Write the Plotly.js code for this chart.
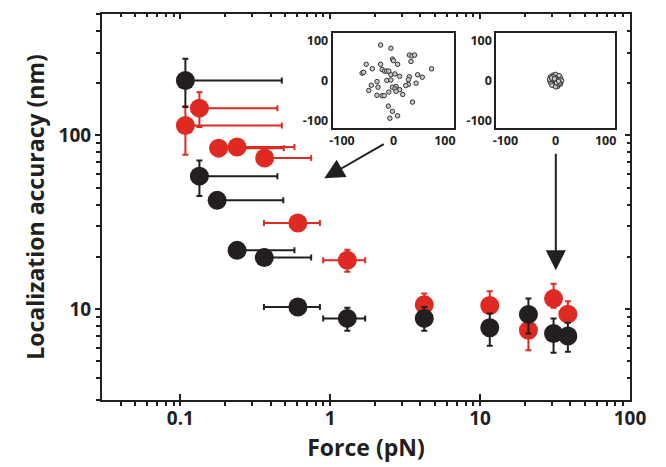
<!DOCTYPE html>
<html>
<head>
<meta charset="utf-8">
<script src="https://cdn.plot.ly/plotly-3.0.1.min.js"></script>
<style>html,body{margin:0;padding:0;background:#fff;}#chart{width:666px;height:467px;}</style>
</head>
<body>
<div id="chart"></div>
<script>
// Black series (force in pN, localization accuracy in nm)
var blackForce = [0.108, 0.134, 0.176, 0.239, 0.363, 0.608, 1.30, 4.24, 11.6, 21.0, 30.9, 38.5];
var blackAcc   = [207, 58.3, 42.3, 21.8, 19.8, 10.3, 8.85, 8.85, 7.82, 9.33, 7.25, 7.0];
var blackAccUp = [276, 71.8, 45.5, 23.5, 22.0, 11.3, 10.2, 10.3, 9.45, 11.5, 8.85, 8.34];
var blackAccLo = [146, 44.8, 39.5, 20.3, 18.0, 9.4, 7.5, 7.5, 6.15, 7.25, 5.61, 5.69];
var blackFLo   = [0.105, 0.134, 0.176, 0.239, 0.363, 0.361, 0.897, 4.24, 11.6, 21.0, 30.9, 38.5];
var blackFHi   = [0.475, 0.444, 0.486, 0.577, 0.746, 0.853, 1.71, 4.24, 11.6, 21.0, 30.9, 38.5];

// Red series
var redForce = [0.134, 0.108, 0.180, 0.239, 0.365, 0.608, 1.30, 4.24, 11.6, 21.0, 30.9, 38.5];
var redAcc   = [143.6, 114, 84.5, 85.7, 74.1, 31.3, 19.1, 10.6, 10.5, 7.57, 11.5, 9.36];
var redAccUp = [177, 147, 90, 91, 79, 34, 22.0, 12.3, 12.7, 9.0, 14.0, 11.1];
var redAccLo = [112, 77.4, 79, 80, 69, 29, 16.4, 9.6, 9.6, 5.81, 10.2, 8.5];
var redFLo   = [0.134, 0.108, 0.180, 0.239, 0.365, 0.361, 0.897, 4.24, 11.6, 21.0, 30.9, 38.5];
var redFHi   = [0.444, 0.475, 0.49, 0.577, 0.746, 0.853, 1.71, 4.24, 11.6, 21.0, 30.9, 38.5];

// Inset 1 (low force): positions (nm)
var in1X = [-25,-5,31,36,41,-2,0,34,8,-53,-25,-41,-22,-17,-13,-9,74,-61,-58,-5,3,12,47,56,31,29,-13,-5,-32,44,29,24,-43,-30,-2,5,3,-48,12,5,-9,18,-32,-22,-18,37,-10,-2,8,-7];
var in1Y = [88,80,63,61,63,53,49,47,40,40,40,29,27,23,23,23,29,18,20,14,16,10,14,8,9,2,0,1,-3,-7,-10,-13,-12,-17,-17,-15,-21,-25,-23,-27,-29,-35,-37,-38,-38,-54,-64,-77,-88,-94];

// Inset 2 (high force): positions (nm)
var in2X = [0,6,-6,11,-11,3,-3,9,-9,5,-5,0,4,-4,10,-10,7,-7,1,-1,12,-12,5,-5,0,8,-8,2,-2,6];
var in2Y = [0,5,-5,2,-3,11,-11,8,-8,-13,13,15,-15,3,-9,9,12,-12,-4,7,-1,3,-9,9,-16,-6,6,-6,4,-2];

var tickX = [0.1, 1, 10, 100];
var tickXText = ['0.1', '1', '10', '100'];
var tickY = [10, 100];
var tickYText = ['10', '100'];
var insetTicks = [-100, 0, 100];
var insetTickText = ['-100', '0', '100'];

var BLACK = '#231f20';
var RED = '#de2a22';

function minus(v, lo) { return v.map(function (d, i) { return d - lo[i]; }); }
function plus(v, hi) { return v.map(function (d, i) { return hi[i] - d; }); }

var errStyleY = function (col, v, up, lo) {
  return { type: 'data', symmetric: false, array: plus(v, up), arrayminus: minus(v, lo), color: col, thickness: 2, width: 3 };
};
var errStyleX = function (col, v, lo, hi) {
  return { type: 'data', symmetric: false, array: plus(v, hi), arrayminus: minus(v, lo), color: col, thickness: 2, width: 3 };
};

var traces = [
  {
    x: redForce, y: redAcc, type: 'scatter', mode: 'markers',
    marker: { color: RED, size: 19, line: { width: 0 } },
    error_y: errStyleY(RED, redAcc, redAccUp, redAccLo),
    error_x: errStyleX(RED, redForce, redFLo, redFHi),
    xaxis: 'x', yaxis: 'y', hoverinfo: 'skip'
  },
  {
    x: blackForce, y: blackAcc, type: 'scatter', mode: 'markers',
    marker: { color: BLACK, size: 19, line: { width: 0 } },
    error_y: errStyleY(BLACK, blackAcc, blackAccUp, blackAccLo),
    error_x: errStyleX(BLACK, blackForce, blackFLo, blackFHi),
    xaxis: 'x', yaxis: 'y', hoverinfo: 'skip'
  },
  { x: [], y: [], type: 'scatter', mode: 'markers', xaxis: 'x2', yaxis: 'y2', hoverinfo: 'skip' },
  {
    x: in1X, y: in1Y, type: 'scatter', mode: 'markers', xaxis: 'x3', yaxis: 'y3',
    marker: { color: '#c8c8c8', size: 4.5, line: { color: '#333', width: 1 } }, hoverinfo: 'skip'
  },
  {
    x: in2X, y: in2Y, type: 'scatter', mode: 'markers', xaxis: 'x4', yaxis: 'y4',
    marker: { color: '#c8c8c8', size: 4.5, line: { color: '#333', width: 1 } }, hoverinfo: 'skip'
  }
];

var tickFont = { family: 'Open Sans, sans-serif', size: 19, color: BLACK, weight: 'bold' };
var insetFont = { family: 'Open Sans, sans-serif', size: 12.5, color: BLACK, weight: 'bold' };
var xr = [Math.log10(0.03), 2];
var yr = [Math.log10(3), Math.log10(500)];

var insetAxis = function (dom, anchor) {
  return {
    domain: dom, anchor: anchor, range: [-118, 118], showgrid: false, zeroline: false,
    showline: true, linewidth: 2, linecolor: BLACK, mirror: true, ticks: '',
    tickmode: 'array', tickvals: insetTicks, ticktext: insetTickText, tickfont: insetFont, ticklabelstandoff: 0
  };
};

var layout = {
  width: 666, height: 467,
  margin: { l: 102, r: 36, t: 14, b: 67 },
  paper_bgcolor: '#fff', plot_bgcolor: '#fff',
  showlegend: false,
  xaxis: {
    type: 'log', range: xr, showgrid: false, zeroline: false,
    showline: true, linewidth: 2, linecolor: BLACK, mirror: true,
    ticks: 'inside', ticklen: 6, tickwidth: 2, tickcolor: BLACK,
    tickmode: 'array', tickvals: tickX, ticktext: tickXText, tickfont: tickFont,
    minor: { dtick: 'D1', ticks: 'outside', ticklen: 4, tickwidth: 2, tickcolor: BLACK, showgrid: false },
    title: { text: 'Force (pN)', font: { family: 'Open Sans, sans-serif', size: 23, color: BLACK, weight: 'bold' }, standoff: 6 },
    domain: [0, 1]
  },
  yaxis: {
    type: 'log', range: yr, showgrid: false, zeroline: false,
    showline: true, linewidth: 2, linecolor: BLACK, mirror: true,
    ticks: 'outside', ticklen: 5, tickwidth: 2, tickcolor: BLACK,
    tickmode: 'array', tickvals: tickY, ticktext: tickYText, tickfont: tickFont,
    minor: { dtick: 'D1', ticks: 'outside', ticklen: 4, tickwidth: 2, tickcolor: BLACK, showgrid: false },
    title: { text: 'Localization accuracy (nm)', font: { family: 'Open Sans, sans-serif', size: 23, color: BLACK, weight: 'bold' }, standoff: 8 },
    domain: [0, 1]
  },
  xaxis2: {
    type: 'log', range: xr, overlaying: 'x', side: 'top', anchor: 'y2', showgrid: false, zeroline: false,
    showline: false, ticks: 'inside', ticklen: 5, tickwidth: 2, tickcolor: BLACK, showticklabels: false,
    tickmode: 'array', tickvals: tickX,
    minor: { dtick: 'D1', ticks: 'inside', ticklen: 3, tickwidth: 2, tickcolor: BLACK, showgrid: false }
  },
  yaxis2: {
    type: 'log', range: yr, overlaying: 'y', side: 'right', anchor: 'x2', showgrid: false, zeroline: false,
    showline: false, ticks: 'inside', ticklen: 5, tickwidth: 2, tickcolor: BLACK, showticklabels: false,
    tickmode: 'array', tickvals: tickY,
    minor: { dtick: 'D1', ticks: 'inside', ticklen: 3, tickwidth: 2, tickcolor: BLACK, showgrid: false }
  },
  xaxis3: insetAxis([0.437, 0.667], 'y3'),
  yaxis3: insetAxis([0.705, 0.951], 'x3'),
  xaxis4: insetAxis([0.747, 0.971], 'y4'),
  yaxis4: insetAxis([0.705, 0.951], 'x4'),
  annotations: [
    {
      xref: 'x', yref: 'y', x: -0.04, y: 1.753, ax: 61, ay: -35, text: '',
      showarrow: true, arrowhead: 2, arrowsize: 2, arrowwidth: 2, arrowcolor: BLACK
    },
    {
      xref: 'x', yref: 'y', x: 1.505, y: 1.224, ax: 0, ay: -118, text: '',
      showarrow: true, arrowhead: 2, arrowsize: 2, arrowwidth: 2, arrowcolor: BLACK
    }
  ]
};

Plotly.newPlot('chart', traces, layout, { displayModeBar: false, staticPlot: true });
</script>
</body>
</html>
